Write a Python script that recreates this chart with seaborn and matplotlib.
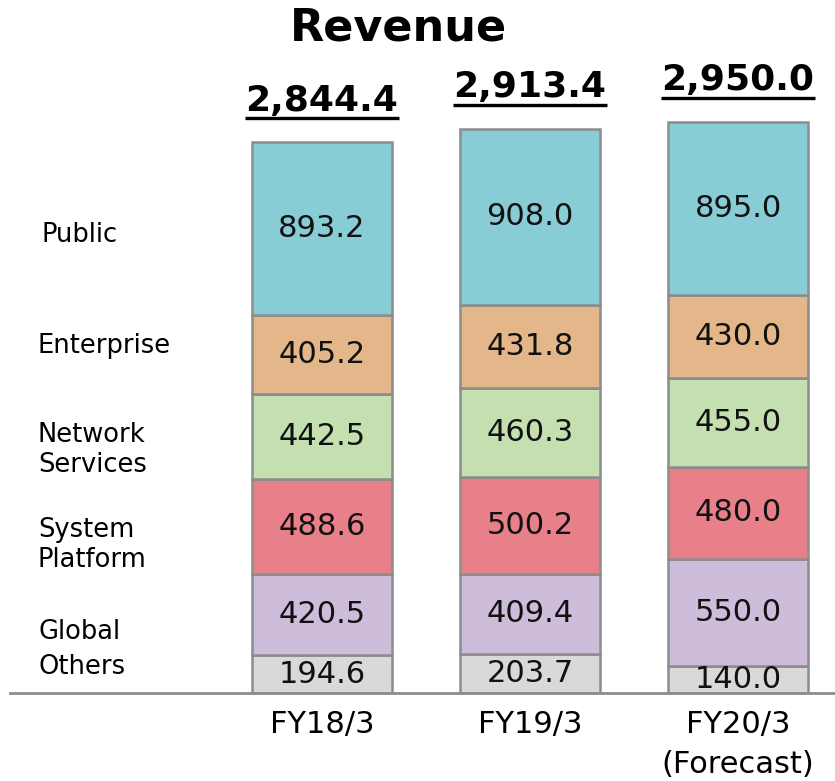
import numpy as np
import pandas as pd
import matplotlib
matplotlib.use("Agg")
import matplotlib.pyplot as plt
import seaborn as sns

# data
years = ["FY18/3", "FY19/3", "FY20/3\n(Forecast)"]
segments = ["Others", "Global", "System\nPlatform", "Network\nServices", "Enterprise", "Public"]
others = [194.6, 203.7, 140.0]
global_ = [420.5, 409.4, 550.0]
system_platform = [488.6, 500.2, 480.0]
network_services = [442.5, 460.3, 455.0]
enterprise = [405.2, 431.8, 430.0]
public = [893.2, 908.0, 895.0]
totals = [2844.4, 2913.4, 2950.0]

colors = ["#d9d9d9", "#cdbdda", "#e8808a", "#c4e0b0", "#e4b78a", "#88cdd6"]
label_y = [667, 632, 545, 450, 346, 235]  # pixel rows of the left-side labels
label_x = [38, 38, 38, 38, 38, 41]

sns.set_style("white")
plt.rcParams["font.family"] = ["DejaVu Sans"]
plt.rcParams["text.color"] = "black"
plt.rcParams["xtick.color"] = "black"

fig = plt.figure(figsize=(8.35, 7.81), dpi=100)
ax = fig.add_axes([10 / 835, 88 / 781, 825 / 835, 693 / 781])

layers = [others, global_, system_platform, network_services, enterprise, public]
bottom = np.zeros(3)
for vals, col in zip(layers, colors):
    df = pd.DataFrame({"year": years, "value": vals})
    sns.barplot(data=df, x="year", y="value", bottom=bottom, color=col,
                width=0.67, edgecolor="#8c8c8c", linewidth=1.8, saturation=1, ax=ax)
    for i, v in enumerate(vals):
        ax.text(i, bottom[i] + v / 2, f"{v:.1f}", ha="center", va="center",
                fontsize=22, color="#111111")
    bottom += np.array(vals)

# totals with underline
for i, t in enumerate(totals):
    line_y = bottom[i] + 124
    ax.text(i, line_y + 40, f"{t:,.1f}", ha="center", va="baseline",
            fontsize=26, fontweight="bold")
    ax.plot([i - 0.37, i + 0.37], [line_y, line_y], color="black", lw=2.4,
            solid_capstyle="butt", clip_on=False)

for name, px, py in zip(segments, label_x, label_y):
    fig.text(px / 835, 1 - py / 781, name, ha="left", va="center", fontsize=18.5,
             linespacing=1.2)

fig.text(398 / 835, 1 - 28 / 781, "Revenue", ha="center", va="center",
         fontsize=32, fontweight="bold")

ax.set_xlim(-1.5, 2.466)
ax.set_ylim(0, 3580)
ax.set_xlabel("")
ax.set_ylabel("")
ax.set_yticks([])
ax.tick_params(axis="x", length=0, labelsize=22, pad=12)
for lab in ax.get_xticklabels():
    lab.set_linespacing(1.5)
for s in ["top", "left", "right"]:
    ax.spines[s].set_visible(False)
ax.spines["bottom"].set_color("#8c8c8c")
ax.spines["bottom"].set_linewidth(2)

fig.savefig("out.png", dpi=100)
